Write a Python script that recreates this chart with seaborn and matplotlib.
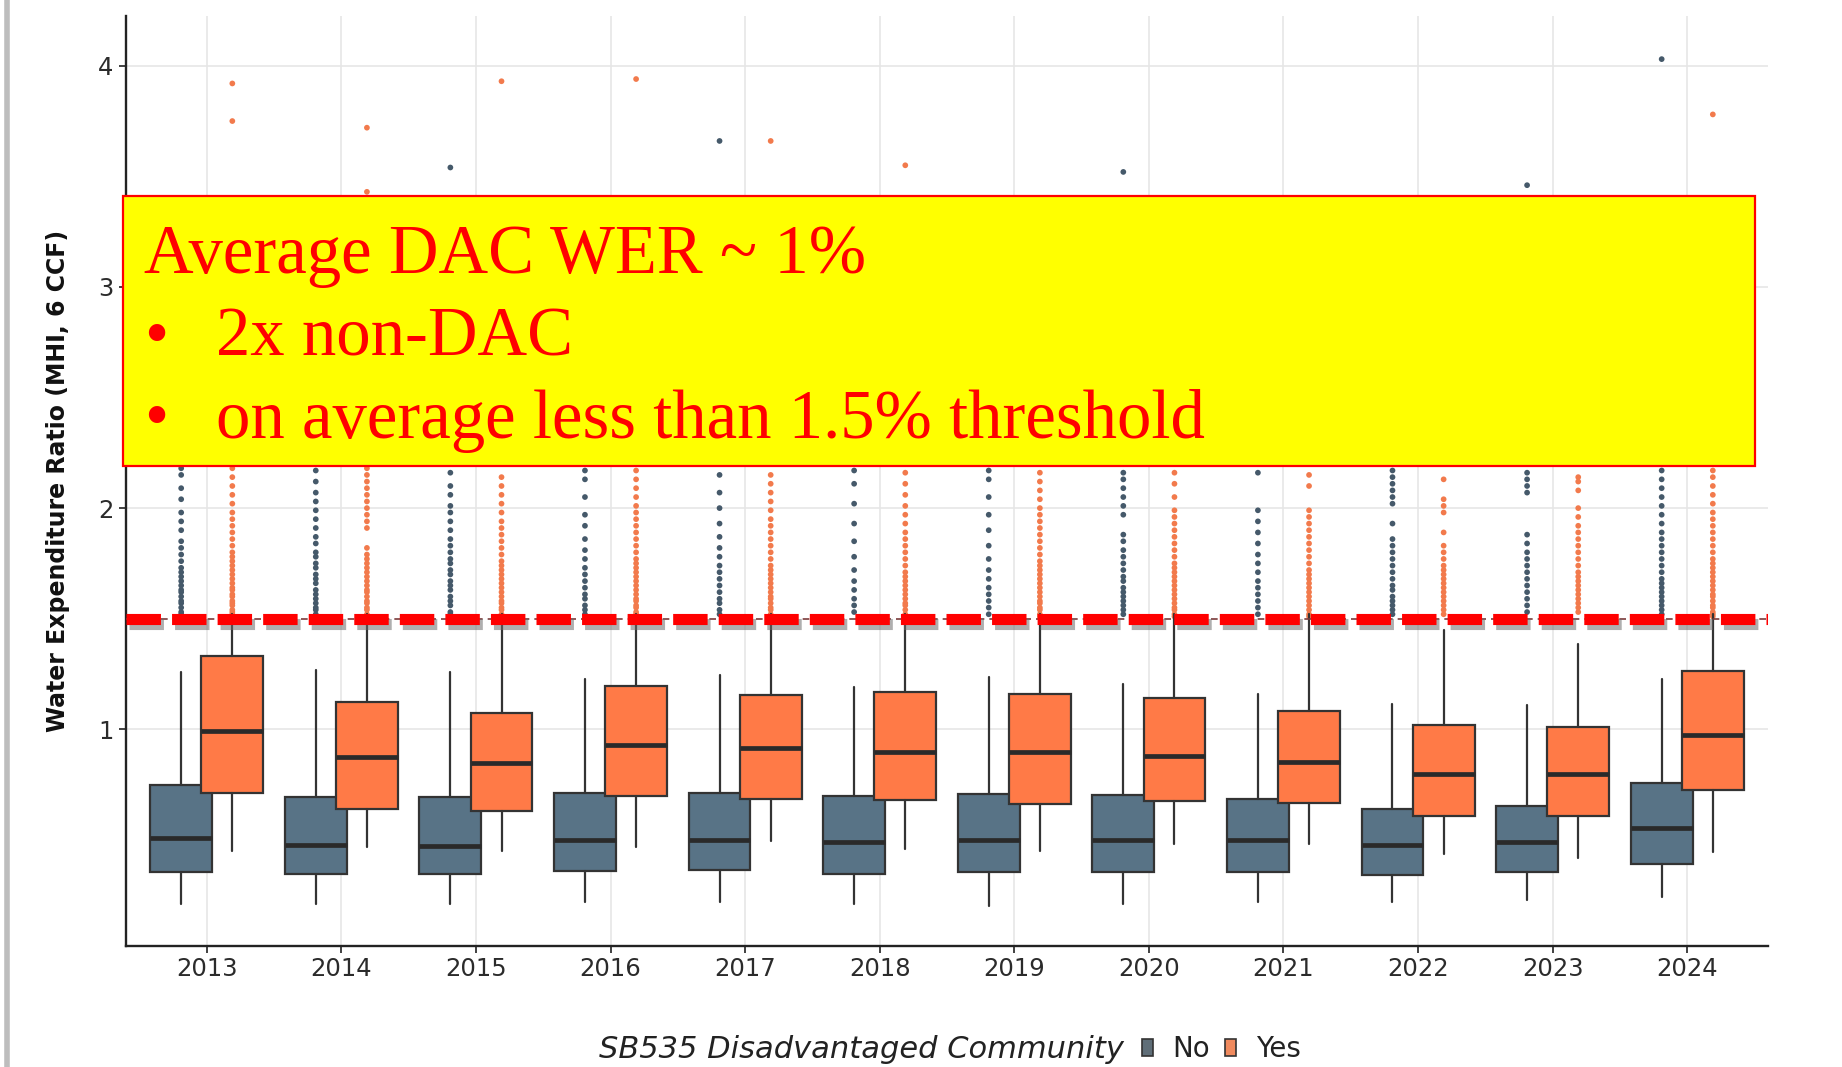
import numpy as np
import pandas as pd
import matplotlib
matplotlib.use("Agg")
import matplotlib.pyplot as plt
import matplotlib.patheffects as pe
from matplotlib.patches import Rectangle, Patch
from matplotlib.lines import Line2D
import seaborn as sns

# ---------------- data ----------------
years = ["2013", "2014", "2015", "2016", "2017", "2018",
         "2019", "2020", "2021", "2022", "2023", "2024"]
groups = ["No", "Yes"]

# five-number summaries per year (Water Expenditure Ratio, %)
no_whislo = [0.21, 0.21, 0.21, 0.22, 0.22, 0.21, 0.20, 0.21, 0.22, 0.22, 0.23, 0.24]
no_q1     = [0.354, 0.347, 0.347, 0.359, 0.365, 0.347, 0.353, 0.353, 0.354, 0.342, 0.353, 0.392]
no_med    = [0.510, 0.475, 0.474, 0.498, 0.498, 0.489, 0.498, 0.501, 0.501, 0.478, 0.490, 0.553]
no_q3     = [0.750, 0.692, 0.694, 0.713, 0.712, 0.700, 0.709, 0.703, 0.685, 0.640, 0.655, 0.757]
no_whishi = [1.26, 1.27, 1.26, 1.225, 1.244, 1.192, 1.237, 1.204, 1.161, 1.113, 1.111, 1.229]

yes_whislo = [0.449, 0.468, 0.449, 0.468, 0.495, 0.459, 0.449, 0.483, 0.483, 0.437, 0.419, 0.445]
yes_q1     = [0.712, 0.640, 0.630, 0.700, 0.685, 0.679, 0.661, 0.676, 0.667, 0.609, 0.609, 0.724]
yes_med    = [0.991, 0.875, 0.849, 0.931, 0.914, 0.896, 0.896, 0.879, 0.852, 0.796, 0.799, 0.973]
yes_q3     = [1.333, 1.121, 1.074, 1.195, 1.155, 1.167, 1.161, 1.143, 1.083, 1.020, 1.011, 1.264]
yes_whishi = [1.52, 1.52, 1.52, 1.52, 1.52, 1.52, 1.52, 1.52, 1.52, 1.448, 1.385, 1.52]

# outliers (visible ones)
no_out_2013 = [1.52, 1.53, 1.55, 1.57, 1.58, 1.60, 1.62, 1.63, 1.65, 1.67, 1.69, 1.71, 1.73, 1.76, 1.79, 1.82, 1.85, 1.90, 1.94, 1.98, 2.04, 2.09, 2.15, 2.18]
no_out_2014 = [1.52, 1.54, 1.55, 1.57, 1.59, 1.61, 1.63, 1.66, 1.68, 1.70, 1.73, 1.75, 1.78, 1.80, 1.84, 1.87, 1.91, 1.95, 1.99, 2.03, 2.07, 2.12, 2.17]
no_out_2015 = [1.52, 1.53, 1.56, 1.58, 1.60, 1.63, 1.65, 1.67, 1.70, 1.72, 1.75, 1.77, 1.80, 1.83, 1.86, 1.90, 1.94, 1.98, 2.01, 2.06, 2.10, 2.16, 3.54]
no_out_2016 = [1.52, 1.54, 1.56, 1.59, 1.61, 1.64, 1.67, 1.70, 1.73, 1.77, 1.81, 1.86, 1.92, 1.97, 2.05, 2.13, 2.17]
no_out_2017 = [1.52, 1.54, 1.57, 1.59, 1.62, 1.65, 1.68, 1.71, 1.74, 1.78, 1.82, 1.87, 1.93, 2.00, 2.07, 2.15, 3.66]
no_out_2018 = [1.53, 1.56, 1.59, 1.63, 1.67, 1.72, 1.78, 1.85, 1.93, 2.02, 2.11, 2.17]
no_out_2019 = [1.52, 1.55, 1.58, 1.61, 1.64, 1.68, 1.72, 1.77, 1.83, 1.90, 1.97, 2.05, 2.13, 2.17]
no_out_2020 = [1.52, 1.54, 1.56, 1.58, 1.60, 1.62, 1.64, 1.67, 1.69, 1.72, 1.75, 1.78, 1.81, 1.85, 1.88, 1.97, 2.01, 2.05, 2.09, 2.13, 2.16, 3.52]
no_out_2021 = [1.52, 1.55, 1.58, 1.61, 1.64, 1.67, 1.71, 1.75, 1.79, 1.84, 1.89, 1.94, 1.99, 2.16]
no_out_2022 = [1.52, 1.54, 1.56, 1.58, 1.60, 1.63, 1.65, 1.68, 1.71, 1.74, 1.77, 1.80, 1.83, 1.86, 1.93, 2.02, 2.05, 2.08, 2.11, 2.14, 2.17]
no_out_2023 = [1.53, 1.56, 1.59, 1.62, 1.65, 1.68, 1.71, 1.74, 1.77, 1.80, 1.84, 1.88, 2.07, 2.10, 2.13, 2.16, 3.46]
no_out_2024 = [1.52, 1.54, 1.56, 1.58, 1.60, 1.62, 1.64, 1.66, 1.68, 1.71, 1.74, 1.77, 1.80, 1.83, 1.86, 1.89, 1.93, 1.97, 2.01, 2.05, 2.09, 2.13, 2.17, 4.03]

yes_out_2013 = [1.51, 1.52, 1.53, 1.54, 1.56, 1.57, 1.58, 1.60, 1.61, 1.63, 1.64, 1.66, 1.68, 1.70, 1.72, 1.74, 1.76, 1.78, 1.80, 1.83, 1.86, 1.89, 1.92, 1.95, 1.98, 2.02, 2.06, 2.10, 2.14, 2.18, 3.75, 3.92]
yes_out_2014 = [1.51, 1.52, 1.54, 1.55, 1.57, 1.58, 1.60, 1.62, 1.63, 1.65, 1.67, 1.69, 1.71, 1.73, 1.75, 1.77, 1.79, 1.82, 1.91, 1.94, 1.97, 2.00, 2.03, 2.06, 2.09, 2.12, 2.15, 2.18, 3.43, 3.72]
yes_out_2015 = [1.51, 1.52, 1.54, 1.55, 1.57, 1.58, 1.60, 1.62, 1.64, 1.66, 1.68, 1.70, 1.72, 1.74, 1.76, 1.79, 1.82, 1.85, 1.88, 1.91, 1.94, 1.98, 2.02, 2.06, 2.10, 2.14, 3.93]
yes_out_2016 = [1.51, 1.52, 1.53, 1.55, 1.56, 1.58, 1.59, 1.61, 1.63, 1.65, 1.67, 1.69, 1.71, 1.73, 1.75, 1.77, 1.80, 1.83, 1.86, 1.89, 1.92, 1.95, 1.98, 2.01, 2.05, 2.09, 2.13, 2.17, 3.94]
yes_out_2017 = [1.51, 1.52, 1.54, 1.55, 1.57, 1.59, 1.60, 1.62, 1.64, 1.66, 1.68, 1.70, 1.72, 1.74, 1.77, 1.80, 1.83, 1.86, 1.89, 1.92, 1.95, 1.99, 2.03, 2.07, 2.11, 2.15, 3.66]
yes_out_2018 = [1.51, 1.52, 1.54, 1.56, 1.57, 1.59, 1.61, 1.63, 1.65, 1.67, 1.69, 1.71, 1.74, 1.77, 1.80, 1.83, 1.86, 1.89, 1.93, 1.97, 2.01, 2.06, 2.11, 2.16, 3.55]
yes_out_2019 = [1.51, 1.52, 1.54, 1.55, 1.57, 1.58, 1.60, 1.62, 1.64, 1.66, 1.68, 1.70, 1.72, 1.74, 1.76, 1.79, 1.82, 1.85, 1.88, 1.91, 1.94, 1.97, 2.00, 2.04, 2.08, 2.12, 2.16]
yes_out_2020 = [1.51, 1.52, 1.54, 1.55, 1.57, 1.59, 1.61, 1.63, 1.65, 1.67, 1.69, 1.71, 1.73, 1.75, 1.78, 1.81, 1.84, 1.87, 1.90, 1.93, 1.96, 1.99, 2.05, 2.11, 2.16]
yes_out_2021 = [1.51, 1.52, 1.54, 1.56, 1.58, 1.60, 1.62, 1.64, 1.66, 1.68, 1.70, 1.72, 1.75, 1.78, 1.81, 1.84, 1.87, 1.90, 1.93, 1.96, 1.99, 2.10, 2.15]
yes_out_2022 = [1.52, 1.54, 1.56, 1.58, 1.60, 1.62, 1.64, 1.66, 1.68, 1.70, 1.72, 1.74, 1.77, 1.80, 1.83, 1.89, 1.98, 2.01, 2.04, 2.13]
yes_out_2023 = [1.53, 1.55, 1.57, 1.59, 1.61, 1.63, 1.65, 1.67, 1.69, 1.71, 1.74, 1.77, 1.80, 1.83, 1.86, 1.89, 1.92, 1.96, 2.00, 2.08, 2.12, 2.14]
yes_out_2024 = [1.51, 1.52, 1.53, 1.55, 1.56, 1.58, 1.60, 1.61, 1.63, 1.65, 1.67, 1.69, 1.71, 1.73, 1.75, 1.77, 1.80, 1.83, 1.86, 1.89, 1.92, 1.95, 1.98, 2.02, 2.06, 2.10, 2.14, 2.17, 3.78]

no_outliers = [no_out_2013, no_out_2014, no_out_2015, no_out_2016, no_out_2017, no_out_2018,
               no_out_2019, no_out_2020, no_out_2021, no_out_2022, no_out_2023, no_out_2024]
yes_outliers = [yes_out_2013, yes_out_2014, yes_out_2015, yes_out_2016, yes_out_2017, yes_out_2018,
                yes_out_2019, yes_out_2020, yes_out_2021, yes_out_2022, yes_out_2023, yes_out_2024]

threshold = 1.5
y_ticks = [1, 2, 3, 4]
y_label = "Water Expenditure Ratio (MHI, 6 CCF)"
legend_title = "SB535 Disadvantaged Community"
callout_title = "Average DAC WER ~ 1%"
callout_bullets = ["2x non-DAC", "on average less than 1.5% threshold"]

# ---------------- style ----------------
W, H, DPI = 1842, 1067, 100
sns.set_theme(style="whitegrid")
plt.rcParams["font.family"] = ["DejaVu Sans"]

col_no = "#587386"
col_yes = "#FF7A47"
dot_no = "#45596A"
dot_yes = "#F27A4C"
edge = "#333333"

fig = plt.figure(figsize=(W / DPI, H / DPI), dpi=DPI)
fig.patch.set_facecolor("white")
ax = fig.add_axes([126 / W, 1 - 946 / H, (1768 - 126) / W, (946 - 16) / H])
ax.set_facecolor("white")

n = len(years)
idx = np.arange(n)
off, bw = 0.19, 0.46

def stats(lo, q1, med, q3, hi):
    return [dict(whislo=a, q1=b, med=c, q3=d, whishi=e, fliers=[])
            for a, b, c, d, e in zip(lo, q1, med, q3, hi)]

common = dict(patch_artist=True, showfliers=False, widths=bw, showcaps=False,
              whiskerprops=dict(color=edge, lw=1.6),
              medianprops=dict(color="#2a2a2a", lw=3.4, solid_capstyle="butt"),
              manage_ticks=False)

# outliers via seaborn scatter
rows = []
for i in range(n):
    for v in no_outliers[i]:
        rows.append((idx[i] - off, v, "No"))
    for v in yes_outliers[i]:
        rows.append((idx[i] + off, v, "Yes"))
fl = pd.DataFrame(rows, columns=["pos", "value", "dac"])
sns.scatterplot(data=fl, x="pos", y="value", hue="dac", palette={"No": dot_no, "Yes": dot_yes},
                s=17, linewidth=0, ax=ax, legend=False, zorder=2)

# boxes: draw No then Yes per year so Yes overlaps No
for i in range(n):
    bno = ax.bxp(stats([no_whislo[i]], [no_q1[i]], [no_med[i]], [no_q3[i]], [no_whishi[i]]),
                 positions=[idx[i] - off],
                 boxprops=dict(facecolor=col_no, edgecolor=edge, lw=1.6), **common)
    byes = ax.bxp(stats([yes_whislo[i]], [yes_q1[i]], [yes_med[i]], [yes_q3[i]], [yes_whishi[i]]),
                  positions=[idx[i] + off],
                  boxprops=dict(facecolor=col_yes, edgecolor=edge, lw=1.6), **common)
    for part in (bno, byes):
        for a in part["boxes"] + part["whiskers"] + part["medians"]:
            a.set_zorder(3 + i * 0.01)

# threshold lines
ax.axhline(threshold, color="#7a3b3b", lw=1.2, ls=(0, (4, 3)), zorder=4)
hl = ax.axhline(threshold, color="#FF0000", lw=8.0, zorder=5, solid_capstyle="butt")
hl.set_dashes((3.1, 1.0))
hl.set_dash_capstyle("butt")
hl.set_path_effects([pe.SimpleLineShadow(offset=(2.5, -3.5), shadow_color="#6e6e6e", alpha=0.55),
                     pe.Normal()])

# axes styling
ax.set_xlim(-0.6, n - 0.4)
ax.set_ylim(0.02, 4.225)
ax.set_xticks(idx)
ax.set_xticklabels(years)
ax.set_yticks(y_ticks)
ax.set_yticklabels([str(t) for t in y_ticks])
ax.grid(True, color="#E6E6E6", lw=1.2)
ax.set_axisbelow(True)
for s in ("top", "right"):
    ax.spines[s].set_visible(False)
for s in ("left", "bottom"):
    ax.spines[s].set_visible(True)
    ax.spines[s].set_color("#222222")
    ax.spines[s].set_linewidth(1.7)
ax.tick_params(axis="both", which="major", length=5, width=1.3, color="#333333",
               labelsize=17.5, labelcolor="#2b2b2b", pad=4, bottom=True, left=True)
ax.tick_params(axis="x", pad=3)
ax.set_xlabel("")
ax.set_ylabel(y_label, fontsize=17, fontweight="bold", color="#111111")
ax.yaxis.set_label_coords(-0.034, 0.5)

# legend (bottom)
fig.text(1124 / W, 1 - 1050 / H, legend_title, ha="right", va="center",
         fontsize=22, style="italic", color="#222222")
handles = [Patch(facecolor="#5f6e78", edgecolor=edge, lw=1.2, label="No"),
           Patch(facecolor="#F08A5E", edgecolor=edge, lw=1.2, label="Yes")]
fig.legend(handles=handles, loc="center left", bbox_to_anchor=(1128 / W, 1 - 1049 / H),
           ncol=2, frameon=False, fontsize=20, handlelength=0.4, handleheight=0.55,
           handletextpad=0.7, columnspacing=0.55, labelcolor="#222222", borderpad=0)

# slide left border
fig.add_artist(Line2D([7 / W, 7 / W], [0, 1], color="#BDBDBD", lw=4, transform=fig.transFigure))

# yellow callout box
fig.add_artist(Rectangle((123 / W, 1 - 466 / H), (1755 - 123) / W, (466 - 196) / H,
                         transform=fig.transFigure, facecolor="#FFFF00",
                         edgecolor="#FF0000", lw=1.6, zorder=10))
serif = ["Liberation Serif", "DejaVu Serif"]
fig.text(144 / W, 1 - 273 / H, callout_title, ha="left", va="baseline",
         fontsize=49.5, color="#FF0000", family=serif, zorder=11)
for k, (txt, base) in enumerate(zip(callout_bullets, [356, 438])):
    fig.text(144 / W, 1 - base / H, "\u2022", ha="left", va="baseline",
             fontsize=49.5, color="#FF0000", family=serif, zorder=11)
    fig.text(216 / W, 1 - base / H, txt, ha="left", va="baseline",
             fontsize=49.5, color="#FF0000", family=serif, zorder=11)

fig.savefig("out.png", dpi=DPI, facecolor="white")
